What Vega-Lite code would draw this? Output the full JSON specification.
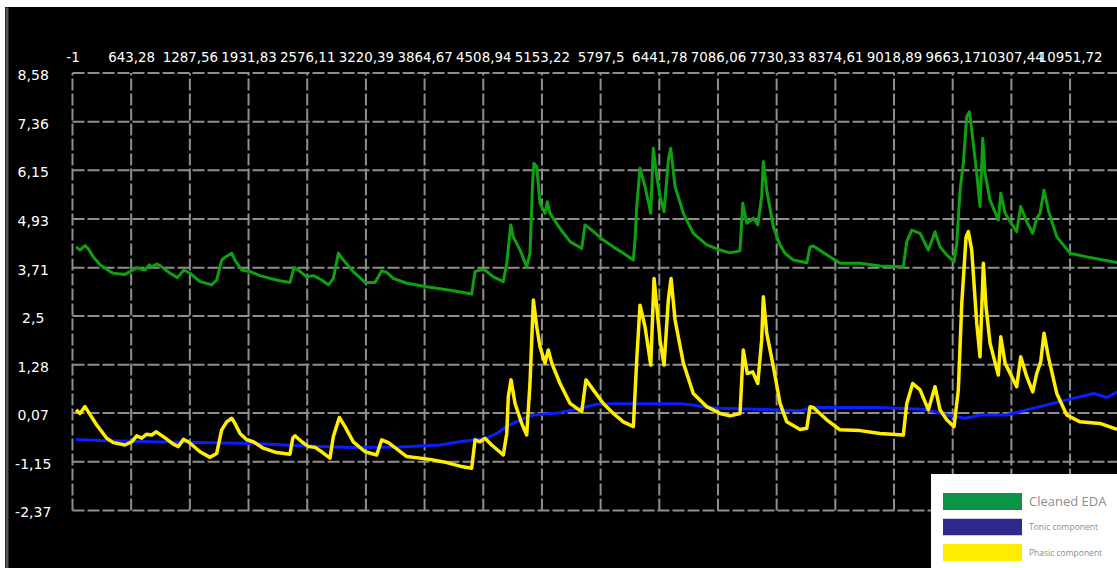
{
  "$schema": "https://vega.github.io/schema/vega-lite/v6.json",
  "width": 1112,
  "height": 561,
  "autosize": {"type": "none"},
  "padding": {"left": 5, "top": 7, "right": 0, "bottom": 0},
  "background": "#ffffff",
  "config": {
    "view": {"fill": "#000000", "stroke": null},
    "locale": {"number": {"decimal": ",", "thousands": "", "grouping": [3], "currency": ["", ""], "minus": "-"}}
  },
  "datasets": {
    "xgrid": [
      {"x": -1}, {"x": 643.28}, {"x": 1287.56}, {"x": 1931.83}, {"x": 2576.11}, {"x": 3220.39},
      {"x": 3864.67}, {"x": 4508.94}, {"x": 5153.22}, {"x": 5797.5}, {"x": 6441.78}, {"x": 7086.06},
      {"x": 7730.33}, {"x": 8374.61}, {"x": 9018.89}, {"x": 9663.17}, {"x": 10307.44}, {"x": 10951.72},
      {"x": 11596}
    ],
    "ygrid": [
      {"y": 8.58}, {"y": 7.36}, {"y": 6.15}, {"y": 4.93}, {"y": 3.71},
      {"y": 2.5}, {"y": 1.28}, {"y": 0.07}, {"y": -1.15}, {"y": -2.37}
    ],
    "eda": [
      {"x": 38, "y": 4.23}, {"x": 81, "y": 4.15}, {"x": 136, "y": 4.26}, {"x": 173, "y": 4.18},
      {"x": 227, "y": 3.98}, {"x": 301, "y": 3.78}, {"x": 411, "y": 3.61}, {"x": 447, "y": 3.57},
      {"x": 576, "y": 3.54}, {"x": 630, "y": 3.61}, {"x": 704, "y": 3.71}, {"x": 759, "y": 3.67},
      {"x": 795, "y": 3.65}, {"x": 842, "y": 3.78}, {"x": 869, "y": 3.73}, {"x": 924, "y": 3.8},
      {"x": 960, "y": 3.76}, {"x": 1070, "y": 3.57}, {"x": 1150, "y": 3.46}, {"x": 1223, "y": 3.65},
      {"x": 1289, "y": 3.57}, {"x": 1399, "y": 3.36}, {"x": 1527, "y": 3.28}, {"x": 1582, "y": 3.4},
      {"x": 1637, "y": 3.9}, {"x": 1674, "y": 3.97}, {"x": 1747, "y": 4.07}, {"x": 1783, "y": 3.9},
      {"x": 1857, "y": 3.65}, {"x": 1948, "y": 3.61}, {"x": 2058, "y": 3.51}, {"x": 2168, "y": 3.44},
      {"x": 2277, "y": 3.38}, {"x": 2387, "y": 3.34}, {"x": 2431, "y": 3.71}, {"x": 2478, "y": 3.65},
      {"x": 2571, "y": 3.48}, {"x": 2643, "y": 3.51}, {"x": 2735, "y": 3.4}, {"x": 2808, "y": 3.28},
      {"x": 2863, "y": 3.44}, {"x": 2918, "y": 4.07}, {"x": 2972, "y": 3.9}, {"x": 3082, "y": 3.61},
      {"x": 3211, "y": 3.34}, {"x": 3321, "y": 3.34}, {"x": 3394, "y": 3.63}, {"x": 3449, "y": 3.59},
      {"x": 3521, "y": 3.44}, {"x": 3669, "y": 3.32}, {"x": 3888, "y": 3.23}, {"x": 4180, "y": 3.13},
      {"x": 4382, "y": 3.05}, {"x": 4419, "y": 3.61}, {"x": 4473, "y": 3.65}, {"x": 4528, "y": 3.65},
      {"x": 4619, "y": 3.48}, {"x": 4729, "y": 3.36}, {"x": 4767, "y": 3.82}, {"x": 4811, "y": 4.78},
      {"x": 4839, "y": 4.48}, {"x": 4913, "y": 4.15}, {"x": 4986, "y": 3.73}, {"x": 5022, "y": 4.07},
      {"x": 5052, "y": 5.9}, {"x": 5066, "y": 6.32}, {"x": 5096, "y": 6.24}, {"x": 5132, "y": 5.32},
      {"x": 5187, "y": 5.07}, {"x": 5212, "y": 5.36}, {"x": 5242, "y": 5.07}, {"x": 5352, "y": 4.69},
      {"x": 5462, "y": 4.36}, {"x": 5590, "y": 4.19}, {"x": 5626, "y": 4.78}, {"x": 5700, "y": 4.65},
      {"x": 5827, "y": 4.4}, {"x": 5937, "y": 4.23}, {"x": 6047, "y": 4.07}, {"x": 6157, "y": 3.9},
      {"x": 6175, "y": 4.4}, {"x": 6194, "y": 5.24}, {"x": 6230, "y": 6.2}, {"x": 6285, "y": 5.74},
      {"x": 6348, "y": 5.07}, {"x": 6376, "y": 6.7}, {"x": 6414, "y": 5.99}, {"x": 6450, "y": 5.49},
      {"x": 6494, "y": 5.11}, {"x": 6541, "y": 6.4}, {"x": 6567, "y": 6.7}, {"x": 6615, "y": 5.74},
      {"x": 6706, "y": 5.07}, {"x": 6815, "y": 4.57}, {"x": 6963, "y": 4.28}, {"x": 7109, "y": 4.15},
      {"x": 7218, "y": 4.08}, {"x": 7328, "y": 4.13}, {"x": 7358, "y": 5.32}, {"x": 7402, "y": 4.82},
      {"x": 7474, "y": 4.95}, {"x": 7523, "y": 4.78}, {"x": 7566, "y": 5.49}, {"x": 7584, "y": 6.36},
      {"x": 7621, "y": 5.65}, {"x": 7694, "y": 4.73}, {"x": 7767, "y": 4.28}, {"x": 7822, "y": 4.07},
      {"x": 7913, "y": 3.9}, {"x": 8061, "y": 3.83}, {"x": 8097, "y": 4.23}, {"x": 8133, "y": 4.25},
      {"x": 8280, "y": 4.03}, {"x": 8426, "y": 3.82}, {"x": 8646, "y": 3.82}, {"x": 8865, "y": 3.75},
      {"x": 9121, "y": 3.73}, {"x": 9159, "y": 4.36}, {"x": 9214, "y": 4.65}, {"x": 9305, "y": 4.57},
      {"x": 9396, "y": 4.15}, {"x": 9469, "y": 4.61}, {"x": 9524, "y": 4.23}, {"x": 9598, "y": 4.03},
      {"x": 9678, "y": 3.86}, {"x": 9708, "y": 4.32}, {"x": 9744, "y": 5.65}, {"x": 9780, "y": 6.32},
      {"x": 9817, "y": 7.49}, {"x": 9846, "y": 7.61}, {"x": 9872, "y": 7.16}, {"x": 9927, "y": 6.07},
      {"x": 9963, "y": 5.24}, {"x": 9993, "y": 6.95}, {"x": 10018, "y": 6.07}, {"x": 10073, "y": 5.4},
      {"x": 10164, "y": 4.9}, {"x": 10191, "y": 5.57}, {"x": 10238, "y": 5.07}, {"x": 10366, "y": 4.61},
      {"x": 10410, "y": 5.24}, {"x": 10476, "y": 4.86}, {"x": 10542, "y": 4.57}, {"x": 10586, "y": 4.95},
      {"x": 10622, "y": 5.07}, {"x": 10666, "y": 5.65}, {"x": 10713, "y": 5.15}, {"x": 10806, "y": 4.48},
      {"x": 10952, "y": 4.07}, {"x": 11135, "y": 3.98}, {"x": 11317, "y": 3.9}, {"x": 11468, "y": 3.84}
    ],
    "tonic": [
      {"x": 38, "y": -0.59}, {"x": 301, "y": -0.62}, {"x": 850, "y": -0.65}, {"x": 1399, "y": -0.67},
      {"x": 1948, "y": -0.69}, {"x": 2497, "y": -0.75}, {"x": 3046, "y": -0.79}, {"x": 3595, "y": -0.78},
      {"x": 4034, "y": -0.73}, {"x": 4254, "y": -0.65}, {"x": 4437, "y": -0.59}, {"x": 4547, "y": -0.56},
      {"x": 4657, "y": -0.44}, {"x": 4767, "y": -0.27}, {"x": 4913, "y": -0.1}, {"x": 5059, "y": 0.02},
      {"x": 5352, "y": 0.08}, {"x": 5571, "y": 0.19}, {"x": 5755, "y": 0.29}, {"x": 5937, "y": 0.3},
      {"x": 6669, "y": 0.3}, {"x": 6815, "y": 0.27}, {"x": 6963, "y": 0.21}, {"x": 7109, "y": 0.19},
      {"x": 7584, "y": 0.16}, {"x": 7987, "y": 0.13}, {"x": 8133, "y": 0.21}, {"x": 8865, "y": 0.21},
      {"x": 9378, "y": 0.16}, {"x": 9598, "y": 0.02}, {"x": 9799, "y": -0.06}, {"x": 9963, "y": 0.02},
      {"x": 10256, "y": 0.02}, {"x": 10476, "y": 0.15}, {"x": 10696, "y": 0.27}, {"x": 10916, "y": 0.4},
      {"x": 11211, "y": 0.56}, {"x": 11358, "y": 0.46}, {"x": 11468, "y": 0.6}
    ],
    "phasic": [
      {"x": 38, "y": 0.15}, {"x": 81, "y": 0.06}, {"x": 136, "y": 0.23}, {"x": 173, "y": 0.1},
      {"x": 265, "y": -0.23}, {"x": 375, "y": -0.56}, {"x": 447, "y": -0.67}, {"x": 576, "y": -0.73},
      {"x": 649, "y": -0.65}, {"x": 704, "y": -0.5}, {"x": 759, "y": -0.56}, {"x": 814, "y": -0.46},
      {"x": 869, "y": -0.48}, {"x": 916, "y": -0.4}, {"x": 996, "y": -0.52}, {"x": 1106, "y": -0.71},
      {"x": 1161, "y": -0.77}, {"x": 1216, "y": -0.59}, {"x": 1271, "y": -0.65}, {"x": 1399, "y": -0.9},
      {"x": 1509, "y": -1.04}, {"x": 1582, "y": -0.94}, {"x": 1637, "y": -0.35}, {"x": 1692, "y": -0.15},
      {"x": 1747, "y": -0.06}, {"x": 1783, "y": -0.19}, {"x": 1838, "y": -0.44}, {"x": 1912, "y": -0.6},
      {"x": 1984, "y": -0.65}, {"x": 2094, "y": -0.81}, {"x": 2241, "y": -0.92}, {"x": 2387, "y": -0.96},
      {"x": 2417, "y": -0.56}, {"x": 2442, "y": -0.5}, {"x": 2516, "y": -0.65}, {"x": 2589, "y": -0.77},
      {"x": 2662, "y": -0.79}, {"x": 2735, "y": -0.9}, {"x": 2826, "y": -1.06}, {"x": 2863, "y": -0.52},
      {"x": 2929, "y": -0.04}, {"x": 2991, "y": -0.27}, {"x": 3082, "y": -0.65}, {"x": 3211, "y": -0.9},
      {"x": 3339, "y": -0.98}, {"x": 3394, "y": -0.6}, {"x": 3467, "y": -0.67}, {"x": 3576, "y": -0.86},
      {"x": 3669, "y": -1.02}, {"x": 3924, "y": -1.09}, {"x": 4108, "y": -1.17}, {"x": 4254, "y": -1.26},
      {"x": 4382, "y": -1.31}, {"x": 4419, "y": -0.6}, {"x": 4473, "y": -0.65}, {"x": 4528, "y": -0.56},
      {"x": 4602, "y": -0.73}, {"x": 4729, "y": -0.98}, {"x": 4767, "y": -0.44}, {"x": 4784, "y": 0.48},
      {"x": 4814, "y": 0.9}, {"x": 4858, "y": 0.31}, {"x": 4931, "y": -0.19}, {"x": 4986, "y": -0.48},
      {"x": 5022, "y": 0.81}, {"x": 5059, "y": 2.9}, {"x": 5096, "y": 2.23}, {"x": 5132, "y": 1.73},
      {"x": 5187, "y": 1.32}, {"x": 5223, "y": 1.65}, {"x": 5261, "y": 1.32}, {"x": 5352, "y": 0.81},
      {"x": 5462, "y": 0.31}, {"x": 5590, "y": 0.1}, {"x": 5637, "y": 0.9}, {"x": 5717, "y": 0.65},
      {"x": 5827, "y": 0.31}, {"x": 5937, "y": 0.06}, {"x": 6047, "y": -0.15}, {"x": 6157, "y": -0.27},
      {"x": 6194, "y": 1.4}, {"x": 6230, "y": 2.77}, {"x": 6285, "y": 2.23}, {"x": 6348, "y": 1.27},
      {"x": 6384, "y": 3.44}, {"x": 6414, "y": 2.73}, {"x": 6450, "y": 1.9}, {"x": 6494, "y": 1.27},
      {"x": 6541, "y": 2.9}, {"x": 6571, "y": 3.44}, {"x": 6615, "y": 2.4}, {"x": 6706, "y": 1.32},
      {"x": 6815, "y": 0.56}, {"x": 6963, "y": 0.23}, {"x": 7109, "y": 0.06}, {"x": 7218, "y": 0.0},
      {"x": 7328, "y": 0.06}, {"x": 7364, "y": 1.65}, {"x": 7408, "y": 1.06}, {"x": 7468, "y": 1.1},
      {"x": 7523, "y": 0.81}, {"x": 7566, "y": 1.9}, {"x": 7584, "y": 2.98}, {"x": 7621, "y": 2.07},
      {"x": 7694, "y": 1.23}, {"x": 7767, "y": 0.32}, {"x": 7841, "y": -0.15}, {"x": 7987, "y": -0.34},
      {"x": 8061, "y": -0.31}, {"x": 8097, "y": 0.23}, {"x": 8133, "y": 0.21}, {"x": 8280, "y": -0.1},
      {"x": 8426, "y": -0.35}, {"x": 8646, "y": -0.37}, {"x": 8865, "y": -0.44}, {"x": 9121, "y": -0.48},
      {"x": 9159, "y": 0.31}, {"x": 9224, "y": 0.81}, {"x": 9305, "y": 0.65}, {"x": 9396, "y": 0.15},
      {"x": 9469, "y": 0.73}, {"x": 9524, "y": 0.15}, {"x": 9598, "y": -0.1}, {"x": 9678, "y": -0.27},
      {"x": 9725, "y": 0.65}, {"x": 9763, "y": 2.82}, {"x": 9810, "y": 4.48}, {"x": 9835, "y": 4.61},
      {"x": 9872, "y": 4.15}, {"x": 9927, "y": 2.32}, {"x": 9963, "y": 1.48}, {"x": 10000, "y": 3.82},
      {"x": 10029, "y": 2.73}, {"x": 10073, "y": 1.82}, {"x": 10164, "y": 1.02}, {"x": 10191, "y": 1.98},
      {"x": 10238, "y": 1.32}, {"x": 10366, "y": 0.73}, {"x": 10410, "y": 1.48}, {"x": 10476, "y": 0.98},
      {"x": 10542, "y": 0.6}, {"x": 10586, "y": 1.06}, {"x": 10630, "y": 1.36}, {"x": 10666, "y": 2.07},
      {"x": 10713, "y": 1.48}, {"x": 10806, "y": 0.56}, {"x": 10915, "y": 0.02}, {"x": 11061, "y": -0.15},
      {"x": 11281, "y": -0.19}, {"x": 11468, "y": -0.34}
    ],
    "legendItems": [
      {"series": "Cleaned EDA"}, {"series": "Tonic component"}, {"series": "Phasic component"}
    ]
  },
  "layer": [
    {
      "data": {"name": "xgrid"},
      "mark": {"type": "rule", "color": "#8e8e8e", "strokeWidth": 2, "strokeDash": [12, 3], "clip": true},
      "encoding": {
        "x": {
          "field": "x", "type": "quantitative",
          "scale": {"domain": [-742.1, 11467.1], "nice": false, "zero": false},
          "axis": {
            "orient": "top", "offset": -54.7, "title": null, "grid": false, "domain": false,
            "ticks": false, "labelPadding": 0,
            "values": [-1, 643.28, 1287.56, 1931.83, 2576.11, 3220.39, 3864.67, 4508.94, 5153.22, 5797.5, 6441.78, 7086.06, 7730.33, 8374.61, 9018.89, 9663.17, 10307.44, 10951.72],
            "format": ".2~f",
            "labelAlign": "center", "labelBaseline": "alphabetic", "labelFlush": false, "labelOverlap": false,
            "labelFont": "DejaVu Sans", "labelFontSize": 13.4, "labelColor": "#ffffff"
          }
        },
        "y": {
          "datum": -2.37, "type": "quantitative",
          "scale": {"domain": [-3.8095, 10.2348], "nice": false, "zero": false},
          "axis": {
            "orient": "left", "offset": -1.5, "title": null, "grid": false,
            "domain": true, "domainColor": "#555555", "domainWidth": 3,
            "ticks": false, "labelPadding": -26.2,
            "values": [8.58, 7.36, 6.15, 4.93, 3.71, 2.5, 1.28, 0.07, -1.15, -2.37],
            "format": ".2~f",
            "labelAlign": "center", "labelBaseline": "middle", "labelOffset": 2.5,
            "labelFlush": false, "labelOverlap": false,
            "labelFont": "DejaVu Sans", "labelFontSize": 14, "labelColor": "#ffffff"
          }
        },
        "y2": {"datum": 8.58}
      }
    },
    {
      "data": {"name": "ygrid"},
      "mark": {"type": "rule", "color": "#8e8e8e", "strokeWidth": 2, "strokeDash": [12, 3], "clip": true},
      "encoding": {
        "x": {"datum": -1, "type": "quantitative", "scale": {"domain": [-742.1, 11467.1], "nice": false, "zero": false}},
        "x2": {"datum": 11596},
        "y": {"field": "y", "type": "quantitative", "scale": {"domain": [-3.8095, 10.2348], "nice": false, "zero": false}}
      }
    },
    {
      "data": {"name": "eda"},
      "mark": {"type": "line", "color": "#0fa012", "strokeWidth": 3, "strokeJoin": "round", "clip": true},
      "encoding": {
        "x": {"field": "x", "type": "quantitative", "scale": {"domain": [-742.1, 11467.1], "nice": false, "zero": false}},
        "y": {"field": "y", "type": "quantitative", "scale": {"domain": [-3.8095, 10.2348], "nice": false, "zero": false}}
      }
    },
    {
      "data": {"name": "tonic"},
      "mark": {"type": "line", "color": "#0a1eff", "strokeWidth": 3, "strokeJoin": "round", "clip": true},
      "encoding": {
        "x": {"field": "x", "type": "quantitative", "scale": {"domain": [-742.1, 11467.1], "nice": false, "zero": false}},
        "y": {"field": "y", "type": "quantitative", "scale": {"domain": [-3.8095, 10.2348], "nice": false, "zero": false}}
      }
    },
    {
      "data": {"name": "phasic"},
      "mark": {"type": "line", "color": "#ffee00", "strokeWidth": 3.5, "strokeJoin": "round", "clip": true},
      "encoding": {
        "x": {"field": "x", "type": "quantitative", "scale": {"domain": [-742.1, 11467.1], "nice": false, "zero": false}},
        "y": {"field": "y", "type": "quantitative", "scale": {"domain": [-3.8095, 10.2348], "nice": false, "zero": false}}
      }
    },
    {
      "data": {"name": "legendItems"},
      "mark": {"type": "square", "opacity": 1, "size": 10, "clip": true},
      "encoding": {
        "x": {"datum": 20000, "type": "quantitative", "scale": {"domain": [-742.1, 11467.1], "nice": false, "zero": false}},
        "y": {"datum": 0, "type": "quantitative", "scale": {"domain": [-3.8095, 10.2348], "nice": false, "zero": false}},
        "fill": {
          "field": "series", "type": "nominal",
          "scale": {
            "domain": ["Cleaned EDA", "Tonic component", "Phasic component"],
            "range": ["#0b9444", "#2d2a8c", "#ffec00"]
          },
          "legend": {
            "orient": "none", "legendX": 926, "legendY": 467, "direction": "vertical",
            "title": " ", "titleFontSize": 1, "titlePadding": 6,
            "fillColor": "#ffffff", "strokeColor": null, "padding": 12,
            "symbolType": "M-1,-0.215H1V0.215H-1Z", "symbolSize": 6241,
            "symbolStrokeWidth": 0, "symbolOpacity": 1,
            "clipHeight": 17, "rowPadding": 8.5, "labelOffset": 7,
            "labelFont": "Open Sans", "labelFontSize": 13, "labelColor": "#8c8c8c", "labelLimit": 200,
            "encode": {"labels": {"update": {"fontSize": {"signal": "datum.label === 'Cleaned EDA' ? 13 : 8.5"}}}}
          }
        }
      }
    }
  ]
}
